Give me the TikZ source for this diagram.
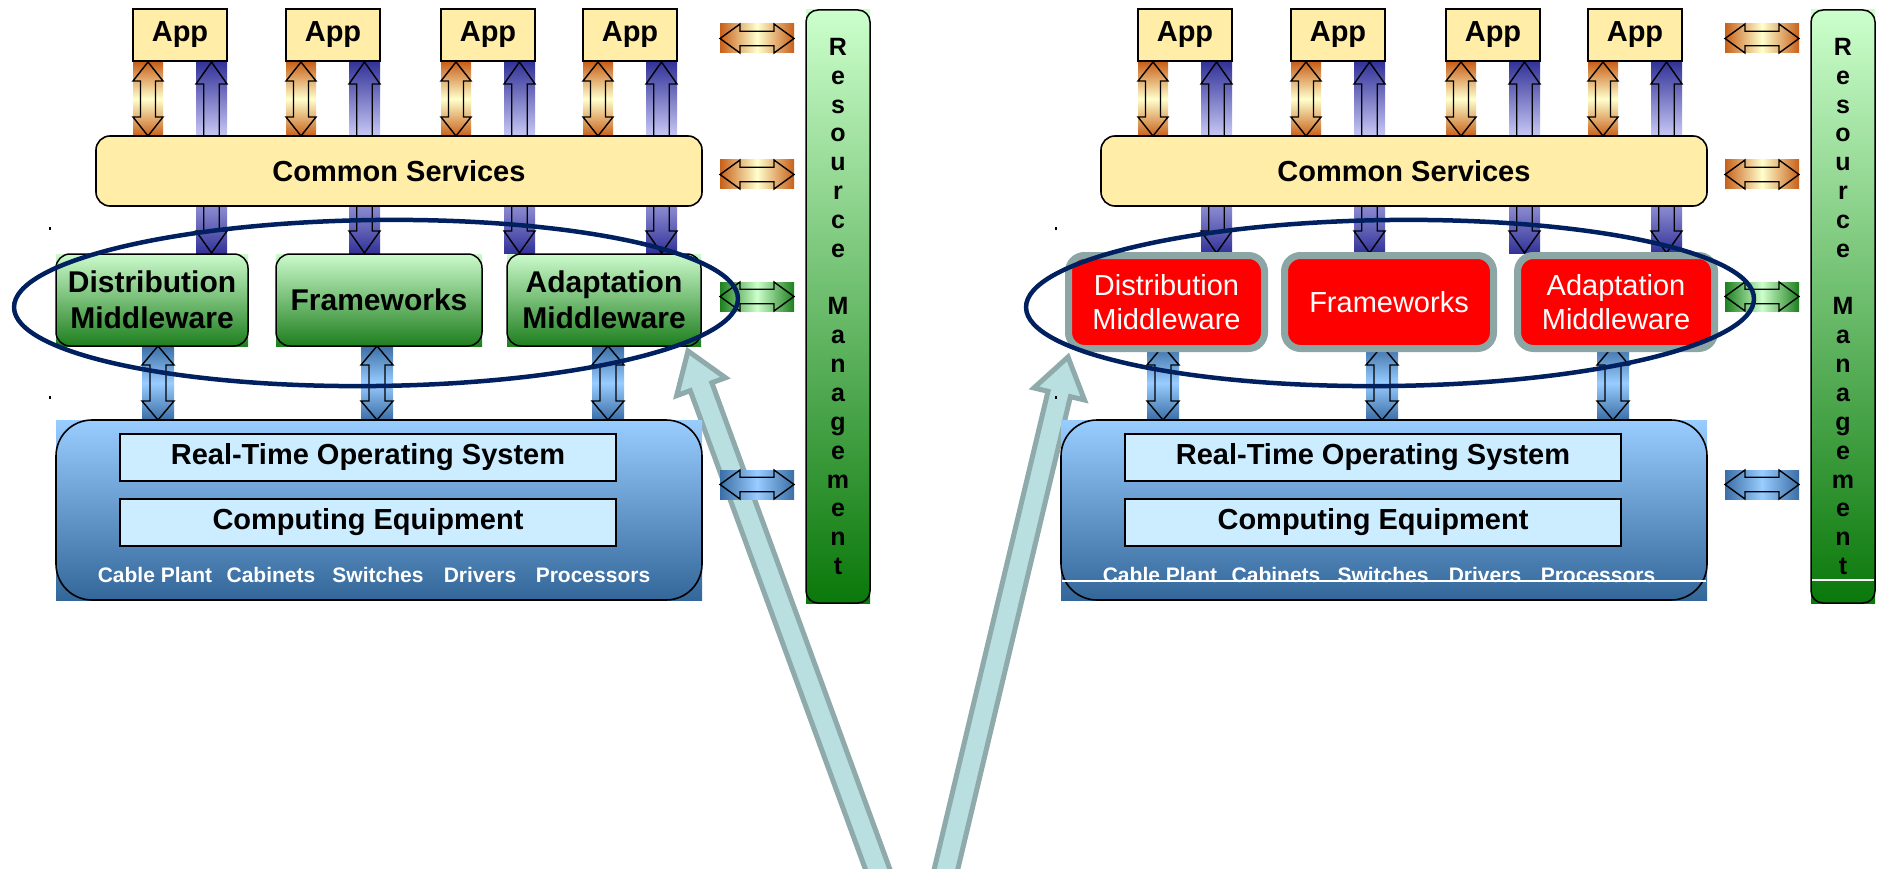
\documentclass[tikz,border=0pt]{standalone}
\usepackage{fontspec}
\setmainfont{Liberation Sans}
\definecolor{appfill}{RGB}{255,237,168}
\definecolor{mwTop}{RGB}{204,250,204}
\definecolor{mwBot}{RGB}{30,127,30}
\definecolor{barTop}{RGB}{204,255,204}
\definecolor{barBot}{RGB}{10,120,10}
\definecolor{platTop}{RGB}{153,204,255}
\definecolor{platBot}{RGB}{51,102,153}
\definecolor{boxfill}{RGB}{204,236,255}
\definecolor{orD}{RGB}{200,96,26}
\definecolor{orL}{RGB}{255,255,204}
\definecolor{navy}{RGB}{51,51,153}
\definecolor{lav}{RGB}{200,200,245}
\definecolor{lavmid}{RGB}{140,140,210}
\definecolor{lbD}{RGB}{58,110,165}
\definecolor{lbL}{RGB}{153,204,255}
\definecolor{grD}{RGB}{30,127,30}
\definecolor{grL}{RGB}{204,255,204}
\definecolor{ellcol}{RGB}{0,32,96}
\definecolor{redborder}{RGB}{140,165,165}
\definecolor{tealfill}{RGB}{185,223,225}
\definecolor{tealdraw}{RGB}{143,170,171}
\tikzset{
  arrline/.style={draw=black, line width=1.4},
  appbox/.style={draw=black, line width=2.2, fill=appfill, minimum width=94, minimum height=52, inner sep=0, font=\fontsize{29}{34}\selectfont\bfseries},
  csbox/.style={draw=black, line width=1.6, fill=appfill, rounded corners=14, minimum width=606, minimum height=70, inner sep=0, font=\fontsize{29}{34}\selectfont\bfseries},
  osbox/.style={draw=black, line width=1.8, fill=boxfill, minimum width=496, minimum height=47, inner sep=0, font=\fontsize{29}{34}\selectfont\bfseries},
  platframe/.style={draw=black, line width=1.6, rounded corners=36, minimum width=646, minimum height=180, inner sep=0},
  wordtxt/.style={text=white, inner sep=0, font=\fontsize{21}{25}\selectfont\bfseries},
  barframe/.style={draw=black, line width=1.5, rounded corners=12, minimum width=64, minimum height=593, inner sep=0},
  bartxt/.style={align=center, inner sep=0, font=\fontsize{25}{28.85}\selectfont\bfseries},
  mwbox/.style={draw=black, line width=1.5, rounded corners=14, align=center, inner sep=0, font=\fontsize{30}{36}\selectfont\bfseries},
  redbox/.style={draw=redborder, line width=7, fill=red, rounded corners=16, align=center, inner sep=0, text=white, font=\fontsize{29}{34}\selectfont},
  ellline/.style={draw=ellcol, line width=4.5},
  bigarrow/.style={draw=tealdraw, fill=tealfill, line width=5, line join=miter},
}
% vertical double arrow: x0, ytop, ybot, width, shading
\newcommand{\VDArrow}[5]{%
  \pgfmathsetmacro{\aXa}{#1}\pgfmathsetmacro{\aXb}{#1+#4}%
  \pgfmathsetmacro{\aXm}{#1+#4/2}\pgfmathsetmacro{\aXl}{#1+#4/4}\pgfmathsetmacro{\aXr}{#1+3*#4/4}%
  \pgfmathsetmacro{\aYt}{#2}\pgfmathsetmacro{\aYb}{#3}%
  \pgfmathsetmacro{\aYp}{#2+19}\pgfmathsetmacro{\aYq}{#3-19}%
  \shade[#5] (\aXa,\aYt) rectangle (\aXb,\aYb);
  \draw[arrline] (\aXm,\aYt) -- (\aXb,\aYp) -- (\aXr,\aYp) -- (\aXr,\aYq) -- (\aXb,\aYq) -- (\aXm,\aYb) -- (\aXa,\aYq) -- (\aXl,\aYq) -- (\aXl,\aYp) -- (\aXa,\aYp) -- cycle;
}
% up arrow: x0, ytop, ybot, width
\newcommand{\UpArrow}[4]{%
  \pgfmathsetmacro{\aXa}{#1}\pgfmathsetmacro{\aXb}{#1+#4}%
  \pgfmathsetmacro{\aXm}{#1+#4/2}\pgfmathsetmacro{\aXl}{#1+#4/4}\pgfmathsetmacro{\aXr}{#1+3*#4/4}%
  \pgfmathsetmacro{\aYt}{#2}\pgfmathsetmacro{\aYb}{#3}\pgfmathsetmacro{\aYp}{#2+22}%
  \shade[top color=navy, bottom color=lav] (\aXa,\aYt) rectangle (\aXb,\aYb);
  \draw[arrline] (\aXl,\aYb) -- (\aXl,\aYp) -- (\aXa,\aYp) -- (\aXm,\aYt) -- (\aXb,\aYp) -- (\aXr,\aYp) -- (\aXr,\aYb);
}
% down arrow: x0, ytop, ybot, width
\newcommand{\DnArrow}[4]{%
  \pgfmathsetmacro{\aXa}{#1}\pgfmathsetmacro{\aXb}{#1+#4}%
  \pgfmathsetmacro{\aXm}{#1+#4/2}\pgfmathsetmacro{\aXl}{#1+#4/4}\pgfmathsetmacro{\aXr}{#1+3*#4/4}%
  \pgfmathsetmacro{\aYt}{#2}\pgfmathsetmacro{\aYb}{#3}\pgfmathsetmacro{\aYq}{#3-22}%
  \shade[top color=lavmid, bottom color=navy] (\aXa,\aYt) rectangle (\aXb,\aYb);
  \draw[arrline] (\aXl,\aYt) -- (\aXl,\aYq) -- (\aXa,\aYq) -- (\aXm,\aYb) -- (\aXb,\aYq) -- (\aXr,\aYq) -- (\aXr,\aYt);
}
% horizontal double arrow: x0, x1, ytop, ybot, shading
\newcommand{\HDArrow}[5]{%
  \pgfmathsetmacro{\aXa}{#1}\pgfmathsetmacro{\aXb}{#2}%
  \pgfmathsetmacro{\aXp}{#1+20}\pgfmathsetmacro{\aXq}{#2-20}%
  \pgfmathsetmacro{\aYt}{#3}\pgfmathsetmacro{\aYb}{#4}\pgfmathsetmacro{\aYm}{(#3+#4)/2}%
  \pgfmathsetmacro{\aYl}{#3+(#4-#3)/4}\pgfmathsetmacro{\aYr}{#3+3*(#4-#3)/4}%
  \shade[#5] (\aXa,\aYt) rectangle (\aXb,\aYb);
  \draw[arrline] (\aXa,\aYm) -- (\aXp,\aYt) -- (\aXp,\aYl) -- (\aXq,\aYl) -- (\aXq,\aYt) -- (\aXb,\aYm) -- (\aXq,\aYb) -- (\aXq,\aYr) -- (\aXp,\aYr) -- (\aXp,\aYb) -- cycle;
}
% big teal arrow: tip x, tip y, angle, length
\newcommand{\BigArrow}[4]{%
  \begin{scope}[shift={(#1,#2)}, rotate=#3]
    \filldraw[bigarrow] (0,0) -- (38,26) -- (38,11.5) -- (#4,11.5) -- (#4,-11.5) -- (38,-11.5) -- (38,-26) -- cycle;
  \end{scope}
}
% common parts of one panel
\newcommand{\PanelBase}[1]{%
  \foreach \ax in {133,286,441,583}{%
    \VDArrow{\ax}{62}{136}{30}{top color=orD, bottom color=orD, middle color=orL}
    \UpArrow{\ax+63}{62}{136}{31}
    \DnArrow{\ax+63}{206}{253}{31}
  }
  \foreach \ax [count=\k] in {180,333,488,630}{%
    \node[appbox] (#1app\k) at (\ax,35) {App};
  }
  \node[csbox] (#1cs) at (399,171) {Common Services};
  \foreach \ax in {142,361,592}{%
    \VDArrow{\ax}{346}{420}{32}{top color=lbD, bottom color=lbD, middle color=lbL}
  }
  \shade[top color=platTop, bottom color=platBot] (56,420) rectangle (702,600);
  \node[platframe] (#1plat) at (379,510) {};
  \node[osbox] (#1rtos) at (368,457.5) {Real-Time Operating System};
  \node[osbox] (#1ce) at (368,522.5) {Computing Equipment};
  \node[wordtxt] (#1w1) at (155,575) {Cable Plant};
  \node[wordtxt] (#1w2) at (271,575) {Cabinets};
  \node[wordtxt] (#1w3) at (378,575) {Switches};
  \node[wordtxt] (#1w4) at (480,575) {Drivers};
  \node[wordtxt] (#1w5) at (593,575) {Processors};
  \HDArrow{720}{794}{24}{53}{left color=orD, right color=orD, middle color=orL}
  \HDArrow{720}{794}{160}{189}{left color=orD, right color=orD, middle color=orL}
  \HDArrow{720}{794}{282}{311}{left color=grD, right color=grD, middle color=grL}
  \HDArrow{720}{794}{470}{499}{left color=lbD, right color=lbD, middle color=lbL}
  \shade[top color=barTop, bottom color=barBot] (806,10) rectangle (870,603);
  \node[barframe] (#1rm) at (838,306.5) {};
  \node[bartxt] (#1rmt) at (838,306.5) {R\\e\\s\\o\\u\\r\\c\\e\\[28.85pt]M\\a\\n\\a\\g\\e\\m\\e\\n\\t};
}
\begin{document}
\begin{tikzpicture}[x=1pt, y=-1pt]
\useasboundingbox (0,0) rectangle (1881,869);
\fill[white] (0,0) rectangle (1881,869);
% big teal arrows (behind)
\begin{scope}
  \clip (0,0) rectangle (1881,869);
  \BigArrow{688}{351}{-69.9}{600}
  \BigArrow{1068}{357}{-103.4}{600}
\end{scope}
% ---------- left panel ----------
\PanelBase{L}
\shade[top color=mwTop, bottom color=mwBot] (56,254) rectangle (248,346);
\node[mwbox, minimum width=192, minimum height=92] (Ldm) at (152,300) {Distribution\\Middleware};
\shade[top color=mwTop, bottom color=mwBot] (276,254) rectangle (482,346);
\node[mwbox, minimum width=206, minimum height=92] (Lfw) at (379,300) {Frameworks};
\shade[top color=mwTop, bottom color=mwBot] (507,254) rectangle (701,346);
\node[mwbox, minimum width=194, minimum height=92] (Lam) at (604,300) {Adaptation\\Middleware};
\draw[ellline, rotate around={0.7:(376,303)}] (376,303) ellipse [x radius=362, y radius=83];
\fill (49,227) rectangle (51,230);
\fill (49,396) rectangle (51,399);
% ---------- right panel ----------
\begin{scope}[xshift=1005]
  \PanelBase{R}
  \draw[white, line width=1.2] (57,581) -- (701,581);
  \draw[white, line width=1.2] (807,580) -- (869,580);
  \fill (50,227) rectangle (52,230);
  \fill (50,396) rectangle (52,399);
\end{scope}
\node[redbox, minimum width=196, minimum height=93] (Rdm) at (1166.5,302) {Distribution\\Middleware};
\node[redbox, minimum width=209, minimum height=93] (Rfw) at (1389,302) {Frameworks};
\node[redbox, minimum width=197, minimum height=93] (Ram) at (1616,302) {Adaptation\\Middleware};
\draw[ellline, rotate around={0.7:(1390,303)}] (1390,303) ellipse [x radius=364, y radius=83];
\end{tikzpicture}
\end{document}
